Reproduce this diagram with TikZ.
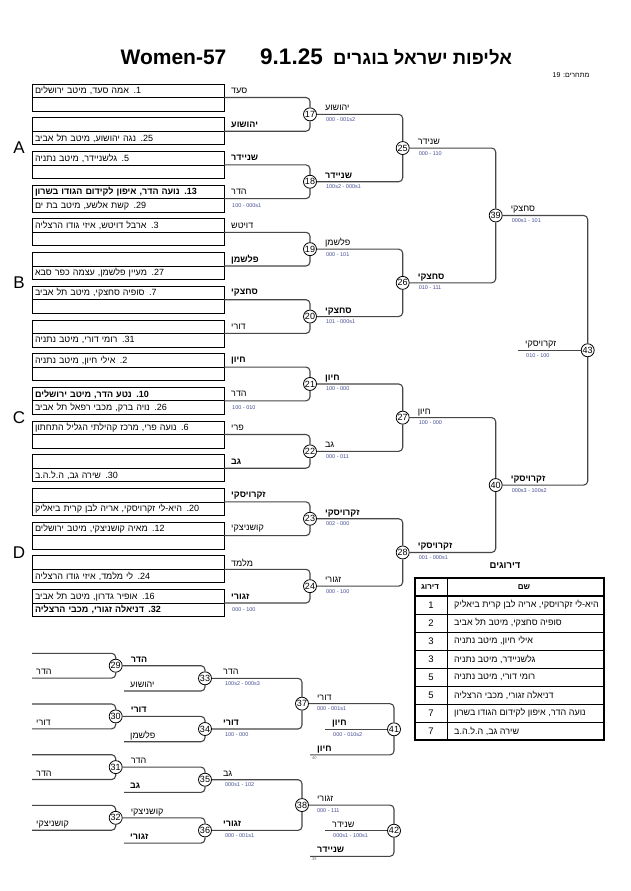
\documentclass[tikz,border=0pt]{standalone}
\usepackage{fontspec}
\setmainfont{Liberation Sans}
\newfontfamily\heb[Script=Hebrew]{Liberation Sans}
\TeXXeTstate=1
\usetikzlibrary{positioning,calc}
\definecolor{scorecol}{RGB}{70,80,150}
\definecolor{lncol}{RGB}{70,70,70}
\newcommand\he[1]{{\heb\beginR #1\endR}}
\newcommand\ltr[1]{\beginL #1\endL{}}
\tikzset{
  entry/.style={draw, line width=0.8pt, text width=186pt, align=left,
                minimum height=13.5pt, inner xsep=3pt, inner ysep=0pt,
                outer sep=0pt, anchor=north west,
                font=\fontsize{9}{10}\selectfont},
  nm/.style={inner sep=0pt, anchor=west, font=\fontsize{9}{10}\selectfont},
  nmb/.style={nm, font=\fontsize{9}{10}\selectfont\bfseries},
  wl/.style={inner sep=0pt, anchor=base west, font=\fontsize{9}{10}\selectfont},
  wlb/.style={wl, font=\fontsize{9}{10}\selectfont\bfseries},
  sc/.style={inner sep=0pt, anchor=north west, text=scorecol,
             font=\fontsize{5.5}{6}\selectfont},
  mc/.style={circle, draw, line width=0.8pt, fill=white, inner sep=0pt,
             minimum size=13pt, font=\fontsize{9}{9}\selectfont},
  br/.style={draw=lncol, line width=1.1pt, rounded corners=4pt},
  pool/.style={font=\fontsize{17}{18}\selectfont},
  ttl/.style={font=\fontsize{21}{24}\selectfont\bfseries},
  tiny/.style={inner sep=0pt, anchor=north west, text=black!60,
               font=\fontsize{4}{4}\selectfont},
  rk/.style={font=\fontsize{9.5}{10}\selectfont},
  tn/.style={anchor=west, inner sep=0pt, font=\fontsize{9}{10}\selectfont},
}

\begin{document}
\begin{tikzpicture}[x=1pt, y=-1pt]
  \useasboundingbox[fill=white] (0,0) rectangle (630,891);
  % title
  \node[ttl] (ttl1) at (173.5,57) {Women-57};
  \node[ttl, font=\fontsize{22.5}{24}\selectfont\bfseries] (ttl2) at (291.5,57) {9.1.25};
  \node[ttl, anchor=west, inner sep=0pt, font=\fontsize{18.5}{24}\selectfont\bfseries]
    (ttl3) at (333,57) {\he{אליפות ישראל בוגרים}};
  \node[anchor=east, font=\fontsize{7}{8}\selectfont] (cnt) at (593,75)
    {\he{מתחרים: \ltr{19}}};
  % pool letters
  \node[pool] (pA) at (19,148.05) {A};
  \node[pool] (pB) at (19,282.85) {B};
  \node[pool] (pC) at (19,417.65) {C};
  \node[pool] (pD) at (19,552.45) {D};

  % pool A
  \node[entry] (e1a) at (32,84) {\he{\ltr{1.} אמה סעד, מיטב ירושלים}};
  \node[entry, below=0pt of e1a] (e1b) {};
  \node[nm, right=7pt of e1a] (n1) {\he{סעד}};
  \node[entry] (e2a) at (32,117.7) {};
  \node[entry, below=0pt of e2a] (e2b) {\he{\ltr{25.} נגה יהושוע, מיטב תל אביב}};
  \node[nmb, right=7pt of e2a] (n2) {\he{יהושוע}};
  \node[entry] (e3a) at (32,151.4) {\he{\ltr{5.} גלשניידר, מיטב נתניה}};
  \node[entry, below=0pt of e3a] (e3b) {};
  \node[nmb, right=7pt of e3a] (n3) {\he{שניידר}};
  \node[entry, font=\fontsize{9}{10}\selectfont\bfseries] (e4a) at (32,185.1)
    {\he{\ltr{13.} נועה הדר, איפון לקידום הגודו בשרון}};
  \node[entry, below=0pt of e4a] (e4b) {\he{\ltr{29.} קשת אלשע, מיטב בת ים}};
  \node[nm, right=7pt of e4a] (n4) {\he{הדר}};
  \node[sc, anchor=west, right=8pt of e4b] (x4) {100 - 000s1};
  % pool B
  \node[entry] (e5a) at (32,218.8) {\he{\ltr{3.} ארבל דויטש, איזי גודו הרצליה}};
  \node[entry, below=0pt of e5a] (e5b) {};
  \node[nm, right=7pt of e5a] (n5) {\he{דויטש}};
  \node[entry] (e6a) at (32,252.5) {};
  \node[entry, below=0pt of e6a] (e6b) {\he{\ltr{27.} מעיין פלשמן, עצמה כפר סבא}};
  \node[nmb, right=7pt of e6a] (n6) {\he{פלשמן}};
  \node[entry] (e7a) at (32,286.2) {\he{\ltr{7.} סופיה סחצקי, מיטב תל אביב}};
  \node[entry, below=0pt of e7a] (e7b) {};
  \node[nmb, right=7pt of e7a] (n7) {\he{סחצקי}};
  \node[entry] (e8a) at (32,319.9) {};
  \node[entry, below=0pt of e8a] (e8b) {\he{\ltr{31.} רומי דורי, מיטב נתניה}};
  \node[nm, right=7pt of e8a] (n8) {\he{דורי}};
  % pool C
  \node[entry] (e9a) at (32,353.6) {\he{\ltr{2.} אילי חיון, מיטב נתניה}};
  \node[entry, below=0pt of e9a] (e9b) {};
  \node[nmb, right=7pt of e9a] (n9) {\he{חיון}};
  \node[entry, font=\fontsize{9}{10}\selectfont\bfseries] (e10a) at (32,387.3)
    {\he{\ltr{10.} נטע הדר, מיטב ירושלים}};
  \node[entry, below=0pt of e10a] (e10b) {\he{\ltr{26.} נויה ברק, מכבי רפאל תל אביב}};
  \node[nm, right=7pt of e10a] (n10) {\he{הדר}};
  \node[sc, anchor=west, right=8pt of e10b] (x10) {100 - 010};
  \node[entry] (e11a) at (32,421) {\he{\ltr{6.} נועה פרי, מרכז קהילתי הגליל התחתון}};
  \node[entry, below=0pt of e11a] (e11b) {};
  \node[nm, right=7pt of e11a] (n11) {\he{פרי}};
  \node[entry] (e12a) at (32,454.7) {};
  \node[entry, below=0pt of e12a] (e12b) {\he{\ltr{30.} שירה גב, ה.ל.ה.ב}};
  \node[nmb, right=7pt of e12a] (n12) {\he{גב}};
  % pool D
  \node[entry] (e13a) at (32,488.4) {};
  \node[entry, below=0pt of e13a] (e13b)
    {\he{\ltr{20.} היא-לי זקרויסקי, אריה לבן קרית ביאליק}};
  \node[nmb, right=7pt of e13a] (n13) {\he{זקרויסקי}};
  \node[entry] (e14a) at (32,522.1) {\he{\ltr{12.} מאיה קושניצקי, מיטב ירושלים}};
  \node[entry, below=0pt of e14a] (e14b) {};
  \node[nm, right=7pt of e14a] (n14) {\he{קושניצקי}};
  \node[entry] (e15a) at (32,555.8) {};
  \node[entry, below=0pt of e15a] (e15b) {\he{\ltr{24.} לי מלמד, איזי גודו הרצליה}};
  \node[nm, right=7pt of e15a] (n15) {\he{מלמד}};
  \node[entry] (e16a) at (32,589.5) {\he{\ltr{16.} אופיר גדרון, מיטב תל אביב}};
  \node[entry, below=0pt of e16a, font=\fontsize{9}{10}\selectfont\bfseries] (e16b)
    {\he{\ltr{32.} דניאלה זגורי, מכבי הרצליה}};
  \node[nmb, right=7pt of e16a] (n16) {\he{זגורי}};
  \node[sc, anchor=west, right=8pt of e16b] (x16) {000 - 100};

  % main draw, circles
  \node[mc] (m17) at (310,114.35) {17};
  \node[mc] (m18) at (310,181.75) {18};
  \node[mc] (m19) at (310,249.15) {19};
  \node[mc] (m20) at (310,316.55) {20};
  \node[mc] (m21) at (310,383.95) {21};
  \node[mc] (m22) at (310,451.35) {22};
  \node[mc] (m23) at (310,518.75) {23};
  \node[mc] (m24) at (310,586.15) {24};
  \node[mc] (m25) at (402.7,148.05) {25};
  \node[mc] (m26) at (402.7,282.85) {26};
  \node[mc] (m27) at (402.7,417.65) {27};
  \node[mc] (m28) at (402.7,552.45) {28};
  \node[mc] (m39) at (495.7,215.45) {39};
  \node[mc] (m40) at (495.7,485.05) {40};
  \node[mc] (m43) at (587.7,350.25) {43};
  \coordinate (f43) at (518,350.25);
  % brackets
  \draw[br] (e1a.south east) -| (m17);
  \draw[br] (e2a.south east) -| (m17);
  \draw[br] (e3a.south east) -| (m18);
  \draw[br] (e4a.south east) -| (m18);
  \draw[br] (e5a.south east) -| (m19);
  \draw[br] (e6a.south east) -| (m19);
  \draw[br] (e7a.south east) -| (m20);
  \draw[br] (e8a.south east) -| (m20);
  \draw[br] (e9a.south east) -| (m21);
  \draw[br] (e10a.south east) -| (m21);
  \draw[br] (e11a.south east) -| (m22);
  \draw[br] (e12a.south east) -| (m22);
  \draw[br] (e13a.south east) -| (m23);
  \draw[br] (e14a.south east) -| (m23);
  \draw[br] (e15a.south east) -| (m24);
  \draw[br] (e16a.south east) -| (m24);
  \draw[br] (m17) -| (m25);
  \draw[br] (m18) -| (m25);
  \draw[br] (m19) -| (m26);
  \draw[br] (m20) -| (m26);
  \draw[br] (m21) -| (m27);
  \draw[br] (m22) -| (m27);
  \draw[br] (m23) -| (m28);
  \draw[br] (m24) -| (m28);
  \draw[br] (m25) -| (m39);
  \draw[br] (m26) -| (m39);
  \draw[br] (m27) -| (m40);
  \draw[br] (m28) -| (m40);
  \draw[br] (m39) -| (m43);
  \draw[br] (m40) -| (m43);
  \draw[br] (m43) -- (f43);
  % winners and scores
  \node[wl] (w17) at ([xshift=8pt,yshift=3.5pt]m17.east) {\he{יהושוע}};
  \node[sc] (s17) at ([xshift=9pt,yshift=-3pt]m17.east) {000 - 001s2};
  \node[wlb] (w18) at ([xshift=8pt,yshift=3.5pt]m18.east) {\he{שניידר}};
  \node[sc] (s18) at ([xshift=9pt,yshift=-3pt]m18.east) {100s2 - 000s1};
  \node[wl] (w19) at ([xshift=8pt,yshift=3.5pt]m19.east) {\he{פלשמן}};
  \node[sc] (s19) at ([xshift=9pt,yshift=-3pt]m19.east) {000 - 101};
  \node[wlb] (w20) at ([xshift=8pt,yshift=3.5pt]m20.east) {\he{סחצקי}};
  \node[sc] (s20) at ([xshift=9pt,yshift=-3pt]m20.east) {101 - 000s1};
  \node[wlb] (w21) at ([xshift=8pt,yshift=3.5pt]m21.east) {\he{חיון}};
  \node[sc] (s21) at ([xshift=9pt,yshift=-3pt]m21.east) {100 - 000};
  \node[wl] (w22) at ([xshift=8pt,yshift=3.5pt]m22.east) {\he{גב}};
  \node[sc] (s22) at ([xshift=9pt,yshift=-3pt]m22.east) {000 - 011};
  \node[wlb] (w23) at ([xshift=8pt,yshift=3.5pt]m23.east) {\he{זקרויסקי}};
  \node[sc] (s23) at ([xshift=9pt,yshift=-3pt]m23.east) {002 - 000};
  \node[wl] (w24) at ([xshift=8pt,yshift=3.5pt]m24.east) {\he{זגורי}};
  \node[sc] (s24) at ([xshift=9pt,yshift=-3pt]m24.east) {000 - 100};
  \node[wl] (w25) at ([xshift=8pt,yshift=3.5pt]m25.east) {\he{שנידר}};
  \node[sc] (s25) at ([xshift=9pt,yshift=-3pt]m25.east) {000 - 110};
  \node[wlb] (w26) at ([xshift=8pt,yshift=3.5pt]m26.east) {\he{סחצקי}};
  \node[sc] (s26) at ([xshift=9pt,yshift=-3pt]m26.east) {010 - 111};
  \node[wl] (w27) at ([xshift=8pt,yshift=3.5pt]m27.east) {\he{חיון}};
  \node[sc] (s27) at ([xshift=9pt,yshift=-3pt]m27.east) {100 - 000};
  \node[wlb] (w28) at ([xshift=8pt,yshift=3.5pt]m28.east) {\he{זקרויסקי}};
  \node[sc] (s28) at ([xshift=9pt,yshift=-3pt]m28.east) {001 - 000s1};
  \node[wl] (w39) at ([xshift=8pt,yshift=3.5pt]m39.east) {\he{סחצקי}};
  \node[sc] (s39) at ([xshift=9pt,yshift=-3pt]m39.east) {000s1 - 101};
  \node[wlb] (w40) at ([xshift=8pt,yshift=3.5pt]m40.east) {\he{זקרויסקי}};
  \node[sc] (s40) at ([xshift=9pt,yshift=-3pt]m40.east) {000s3 - 100s2};
  \node[wl] (w43) at ([xshift=7pt,yshift=3.5pt]f43) {\he{זקרויסקי}};
  \node[sc] (s43) at ([xshift=8pt,yshift=-3pt]f43) {010 - 100};

  % ranking table
  \node[font=\fontsize{9.5}{10}\selectfont\bfseries] (rkt) at (505,566) {\he{דירוגים}};
  \draw[line width=1.5pt] (415,578) rectangle (604,740);
  \draw[line width=1.5pt] (415,596) -- (604,596);
  \draw[line width=0.8pt] (447,578) -- (447,740);
  \draw[line width=0.8pt] (415,614) -- (604,614);
  \draw[line width=0.8pt] (415,632) -- (604,632);
  \draw[line width=0.8pt] (415,650) -- (604,650);
  \draw[line width=0.8pt] (415,668) -- (604,668);
  \draw[line width=0.8pt] (415,686) -- (604,686);
  \draw[line width=0.8pt] (415,704) -- (604,704);
  \draw[line width=0.8pt] (415,722) -- (604,722);
  \node[font=\fontsize{8}{9}\selectfont\bfseries] (th1) at (430,587) {\he{דירוג}};
  \node[font=\fontsize{8}{9}\selectfont\bfseries] (th2) at (524,587) {\he{שם}};
  \node[rk] (r1) at (431,605) {1};
  \node[rk] (r2) at (431,623) {2};
  \node[rk] (r3) at (431,641) {3};
  \node[rk] (r4) at (431,659) {3};
  \node[rk] (r5) at (431,677) {5};
  \node[rk] (r6) at (431,695) {5};
  \node[rk] (r7) at (431,713) {7};
  \node[rk] (r8) at (431,731) {7};
  \node[tn] (t1) at (454,605) {\he{היא-לי זקרויסקי, אריה לבן קרית ביאליק}};
  \node[tn] (t2) at (454,623) {\he{סופיה סחצקי, מיטב תל אביב}};
  \node[tn] (t3) at (454,641) {\he{אילי חיון, מיטב נתניה}};
  \node[tn] (t4) at (454,659) {\he{גלשניידר, מיטב נתניה}};
  \node[tn] (t5) at (454,677) {\he{רומי דורי, מיטב נתניה}};
  \node[tn] (t6) at (454,695) {\he{דניאלה זגורי, מכבי הרצליה}};
  \node[tn] (t7) at (454,713) {\he{נועה הדר, איפון לקידום הגודו בשרון}};
  \node[tn] (t8) at (454,731) {\he{שירה גב, ה.ל.ה.ב}};

  % repechage
  \node[mc] (m29) at (115.7,665.7) {29};
  \node[mc] (m30) at (115.7,716.4) {30};
  \node[mc] (m31) at (115.7,767.1) {31};
  \node[mc] (m32) at (115.7,817.8) {32};
  \node[mc] (m33) at (205,678.3) {33};
  \node[mc] (m34) at (205,729) {34};
  \node[mc] (m35) at (205,779.7) {35};
  \node[mc] (m36) at (205,830.4) {36};
  \node[mc] (m37) at (302,703.65) {37};
  \node[mc] (m38) at (302,805.05) {38};
  \node[mc] (m41) at (394,729.3) {41};
  \node[mc] (m42) at (394,830.7) {42};
  \coordinate (r29a) at (32,653.3);
  \coordinate (r29b) at (32,678.1);
  \coordinate (r30a) at (32,704);
  \coordinate (r30b) at (32,728.8);
  \coordinate (r31a) at (32,754.7);
  \coordinate (r31b) at (32,779.5);
  \coordinate (r32a) at (32,805.4);
  \coordinate (r32b) at (32,830.2);
  \coordinate (r33b) at (124,691);
  \coordinate (r34b) at (124,741.7);
  \coordinate (r35b) at (124,792.4);
  \coordinate (r36b) at (124,843.1);
  \coordinate (r41m) at (325,729.3);
  \coordinate (r41b) at (310,754.9);
  \coordinate (r42m) at (325,830.7);
  \coordinate (r42b) at (310,856.3);
  \draw[br] (r29a) -| (m29);
  \draw[br] (r29b) -| (m29);
  \draw[br] (r30a) -| (m30);
  \draw[br] (r30b) -| (m30);
  \draw[br] (r31a) -| (m31);
  \draw[br] (r31b) -| (m31);
  \draw[br] (r32a) -| (m32);
  \draw[br] (r32b) -| (m32);
  \draw[br] (m29) -| (m33);
  \draw[br] (r33b) -| (m33);
  \draw[br] (m30) -| (m34);
  \draw[br] (r34b) -| (m34);
  \draw[br] (m31) -| (m35);
  \draw[br] (r35b) -| (m35);
  \draw[br] (m32) -| (m36);
  \draw[br] (r36b) -| (m36);
  \draw[br] (m33) -| (m37);
  \draw[br] (m34) -| (m37);
  \draw[br] (m35) -| (m38);
  \draw[br] (m36) -| (m38);
  \draw[br] (m37) -| (m41);
  \draw[br] (r41m) -- (m41);
  \draw[br] (r41b) -| (m41);
  \draw[br] (m38) -| (m42);
  \draw[br] (r42m) -- (m42);
  \draw[br] (r42b) -| (m42);
  % repechage names
  \node[wl] (q29) at ([xshift=4pt,yshift=3.5pt]r29b) {\he{הדר}};
  \node[wl] (q30) at ([xshift=4pt,yshift=3.5pt]r30b) {\he{דורי}};
  \node[wl] (q31) at ([xshift=4pt,yshift=3.5pt]r31b) {\he{הדר}};
  \node[wl] (q32) at ([xshift=4pt,yshift=3.5pt]r32b) {\he{קושניצקי}};
  \node[wlb] (w29) at ([xshift=8pt,yshift=3.5pt]m29.east) {\he{הדר}};
  \node[wl] (q33) at ([xshift=6pt,yshift=3.5pt]r33b) {\he{יהושוע}};
  \node[wlb] (w30) at ([xshift=8pt,yshift=3.5pt]m30.east) {\he{דורי}};
  \node[wl] (q34) at ([xshift=6pt,yshift=3.5pt]r34b) {\he{פלשמן}};
  \node[wl] (w31) at ([xshift=8pt,yshift=3.5pt]m31.east) {\he{הדר}};
  \node[wlb] (q35) at ([xshift=6pt,yshift=3.5pt]r35b) {\he{גב}};
  \node[wl] (w32) at ([xshift=8pt,yshift=3.5pt]m32.east) {\he{קושניצקי}};
  \node[wlb] (q36) at ([xshift=6pt,yshift=3.5pt]r36b) {\he{זגורי}};
  \node[wl] (w33) at ([xshift=11pt,yshift=3.5pt]m33.east) {\he{הדר}};
  \node[sc] (s33) at ([xshift=13pt,yshift=-3pt]m33.east) {100s2 - 000s3};
  \node[wlb] (w34) at ([xshift=11pt,yshift=3.5pt]m34.east) {\he{דורי}};
  \node[sc] (s34) at ([xshift=13pt,yshift=-3pt]m34.east) {100 - 000};
  \node[wl] (w35) at ([xshift=11pt,yshift=3.5pt]m35.east) {\he{גב}};
  \node[sc] (s35) at ([xshift=13pt,yshift=-3pt]m35.east) {000s1 - 102};
  \node[wlb] (w36) at ([xshift=11pt,yshift=3.5pt]m36.east) {\he{זגורי}};
  \node[sc] (s36) at ([xshift=13pt,yshift=-3pt]m36.east) {000 - 001s1};
  \node[wl] (w37) at ([xshift=8pt,yshift=3.5pt]m37.east) {\he{דורי}};
  \node[sc] (s37) at ([xshift=8pt,yshift=-3pt]m37.east) {000 - 001s1};
  \node[wlb] (w41) at ([xshift=7pt,yshift=3.5pt]r41m) {\he{חיון}};
  \node[sc] (s41) at ([xshift=8pt,yshift=-3pt]r41m) {000 - 010s2};
  \node[wlb] (q41) at ([xshift=7pt,yshift=3.5pt]r41b) {\he{חיון}};
  \node[tiny] (y41) at ([xshift=2pt,yshift=-1.5pt]r41b) {40};
  \node[wl] (w38) at ([xshift=8pt,yshift=3.5pt]m38.east) {\he{זגורי}};
  \node[sc] (s38) at ([xshift=8pt,yshift=-3pt]m38.east) {000 - 111};
  \node[wl] (w42) at ([xshift=7pt,yshift=3.5pt]r42m) {\he{שנידר}};
  \node[sc] (s42) at ([xshift=8pt,yshift=-3pt]r42m) {000s1 - 100s1};
  \node[wlb] (q42) at ([xshift=7pt,yshift=3.5pt]r42b) {\he{שניידר}};
  \node[tiny] (y42) at ([xshift=2pt,yshift=-1.5pt]r42b) {39};
\end{tikzpicture}
\end{document}
